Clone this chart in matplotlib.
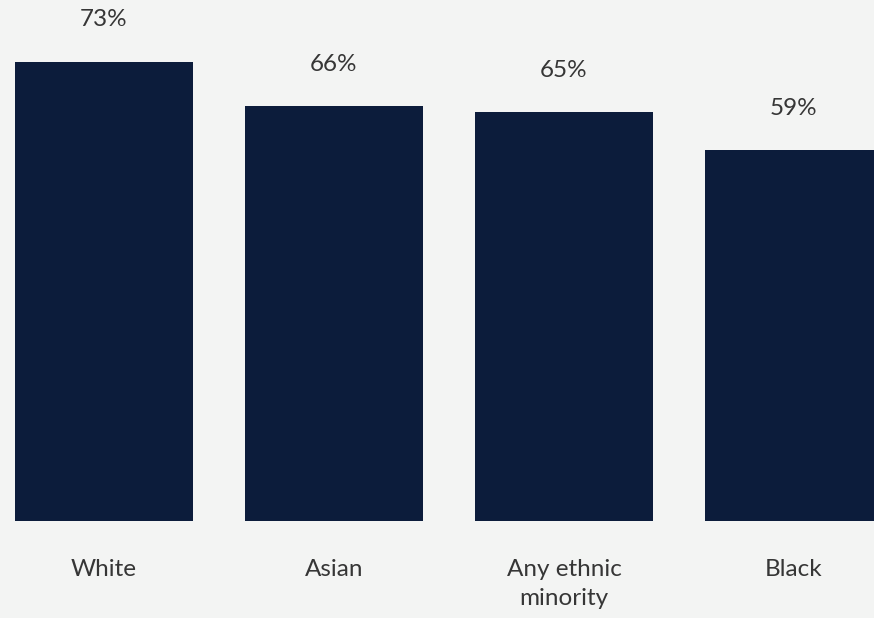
import matplotlib.pyplot as plt

groups = ['White', 'Asian', 'Any ethnic\nminority', 'Black']
shares = [73, 66, 65, 59]

bg = '#f3f4f3'
navy = '#0c1c3b'
text_grey = '#363636'

plt.rcParams['font.family'] = ['Lato', 'DejaVu Sans']

fig = plt.figure(figsize=(8.74, 6.18), dpi=100, facecolor=bg)
ax = fig.add_axes([0, 97 / 618, 1, 521 / 618])
ax.set_facecolor(bg)

x = range(len(groups))
bars = ax.bar(x, shares, width=0.774, color=navy)

for b, v in zip(bars, shares):
    ax.annotate(f'{v}%', (b.get_x() + b.get_width() / 2, v),
                xytext=(0, 42), textcoords='offset pixels',
                ha='center', va='center', fontsize=17.5, color=text_grey)

ax.set_xlim(-0.452, 3.348)
ax.set_ylim(0, 82.86)
ax.set_xticks(list(x))
ax.set_xticklabels(groups, fontsize=17.5, color=text_grey, linespacing=1.5)
ax.tick_params(axis='x', length=0, pad=27)
ax.set_yticks([])
for s in ax.spines.values():
    s.set_visible(False)

fig.savefig('out.png', dpi=100, facecolor=bg)
